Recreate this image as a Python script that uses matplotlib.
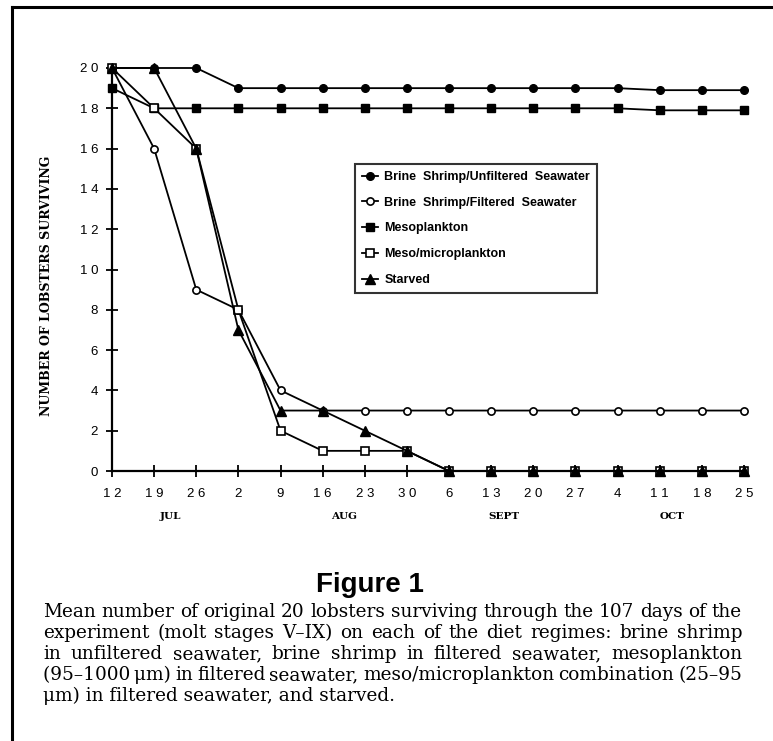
import numpy as np
import matplotlib
matplotlib.use('Agg')
from matplotlib import pyplot as plt
from matplotlib.lines import Line2D

dates = ['12', '19', '26', '2', '9', '16', '23', '30', '6', '13', '20', '27', '4', '11', '18', '25']
months = ['JUL', 'AUG', 'SEPT', 'OCT']
month_pos = [1.4, 5.5, 9.3, 13.3]

unfiltered = [20, 20, 20, 19, 19, 19, 19, 19, 19, 19, 19, 19, 19, 18.9, 18.9, 18.9]
filtered = [20, 16, 9, 8, 4, 3, 3, 3, 3, 3, 3, 3, 3, 3, 3, 3]
meso = [19, 18, 18, 18, 18, 18, 18, 18, 18, 18, 18, 18, 18, 17.9, 17.9, 17.9]
mesomicro = [20, 18, 16, 8, 2, 1, 1, 1, 0, 0, 0, 0, 0, 0, 0, 0]
starved = [20, 20, 16, 7, 3, 3, 2, 1, 0, 0, 0, 0, 0, 0, 0, 0]

caption = ["Mean number of original 20 lobsters surviving through the 107 days of the",
           "experiment (molt stages V\u2013IX) on each of the diet regimes: brine shrimp",
           "in unfiltered seawater, brine shrimp in filtered seawater, mesoplankton",
           "(95\u20131000\u2009\u03bcm) in filtered seawater, meso/microplankton combination (25\u201395",
           "\u03bcm) in filtered seawater, and starved."]

W, H = 773, 741
fig = plt.figure(figsize=(W / 100, H / 100), dpi=100)
ax = fig.add_axes([112 / W, 1 - 471 / H, 632 / W, 403 / H])

x = np.arange(len(dates))
kw = dict(color='black', lw=1.3, clip_on=False)
ax.plot(x, unfiltered, marker='o', ms=5.5, mfc='black', label='Brine  Shrimp/Unfiltered  Seawater', **kw)
ax.plot(x, filtered, marker='o', ms=5.2, mfc='white', mew=1.2, label='Brine  Shrimp/Filtered  Seawater', **kw)
ax.plot(x, meso, marker='s', ms=5.5, mfc='black', label='Mesoplankton', **kw)
ax.plot(x, mesomicro, marker='s', ms=6.3, mfc='white', mew=1.2, label='Meso/microplankton', **kw)
ax.plot(x, starved, marker='^', ms=6.8, mfc='black', label='Starved', **kw)

ax.set_xlim(0, 15)
ax.set_ylim(0, 20)
for s in ['top', 'right']:
    ax.spines[s].set_visible(False)
for s in ['left', 'bottom']:
    ax.spines[s].set_linewidth(1.6)

yt = list(range(0, 21, 2))
ax.set_yticks(yt)
ax.set_yticklabels([' '.join(str(v)) for v in yt], family='Liberation Sans', fontsize=9.5)
ax.set_xticks(x)
ax.set_xticklabels([' '.join(d) for d in dates], family='Liberation Sans', fontsize=9.5)
ax.tick_params(direction='inout', length=8, width=1.3)
ax.tick_params(axis='y', pad=6)
ax.tick_params(axis='x', pad=8)

for m, p in zip(months, month_pos):
    ax.text(p, -0.114, m, transform=ax.get_xaxis_transform(), ha='center', va='center',
            family='DejaVu Serif', fontweight='bold', fontsize=7.5)

fig.text(47 / W, 1 - 286 / H, 'NUMBER OF LOBSTERS SURVIVING', rotation=90, ha='center', va='center',
         family='DejaVu Serif', fontweight='bold', fontsize=9)

leg = ax.legend(loc='upper left', bbox_to_anchor=(355 / W, 1 - 164 / H), bbox_transform=fig.transFigure,
                frameon=True, fancybox=False, edgecolor='black', handlelength=1.3, handletextpad=0.5,
                borderpad=0.55, labelspacing=1.1, borderaxespad=0,
                prop={'family': 'Liberation Sans', 'weight': 'bold', 'size': 9})
leg.get_frame().set_linewidth(1.5)

fig.text(370 / W, 1 - 585 / H, 'Figure 1', ha='center', va='center', family='Liberation Sans',
         fontweight='bold', fontsize=20)

# justified caption lines
fig.canvas.draw()
r = fig.canvas.get_renderer()
left, right = 43, 742
y0 = 612
for i, line in enumerate(caption):
    yy = 1 - (y0 + i * 21) / H
    words = line.split(' ')
    if i == len(caption) - 1:
        fig.text(left / W, yy, line, ha='left', va='center', family='DejaVu Serif', fontsize=13.3)
        continue
    ts = [fig.text(0, yy, w_, ha='left', va='center', family='DejaVu Serif', fontsize=13.3) for w_ in words]
    widths = [t.get_window_extent(r).width for t in ts]
    gap = (right - left - sum(widths)) / (len(words) - 1)
    xx = left
    for t, w_ in zip(ts, widths):
        t.set_x(xx / W)
        xx += w_ + gap

fig.add_artist(Line2D([12 / W, 12 / W], [0, 1 - 7 / H], color='black', lw=2.2))
fig.add_artist(Line2D([12 / W, 1], [1 - 7 / H, 1 - 7 / H], color='black', lw=2.2))

fig.savefig('out.png', dpi=100)
